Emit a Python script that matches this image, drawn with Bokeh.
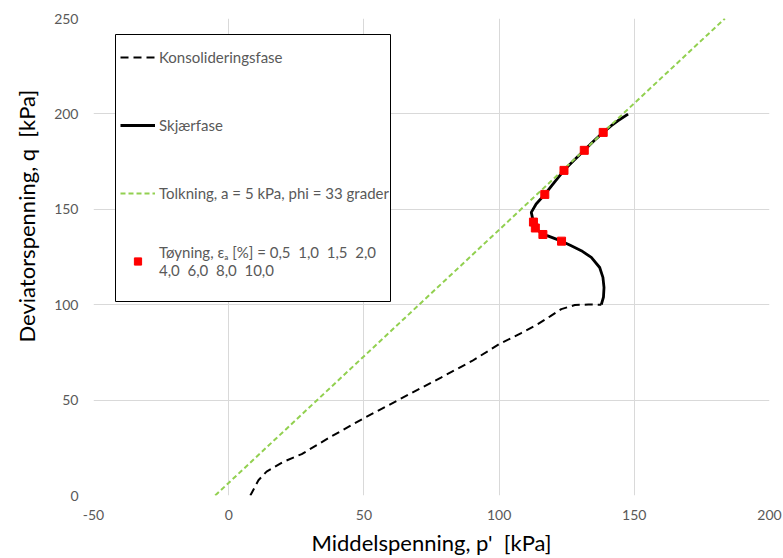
from bokeh.plotting import figure
from bokeh.models import Legend, LegendItem, FixedTicker, Range1d, Title, BoxAnnotation, PrintfTickFormatter
from bokeh.embed import file_html
from bokeh.resources import INLINE

# Konsolideringsfase (dashed black)
kons_p = [8.0, 9.5, 11.0, 14.0, 20.0, 27.0, 38.0, 50.0, 64.0, 78.5, 90.0, 100.0, 108.0, 114.3, 119.0, 123.0, 128.0, 133.0, 137.8]
kons_q = [0.0, 4.0, 8.0, 12.5, 17.5, 21.7, 31.0, 40.5, 51.0, 61.8, 70.5, 79.3, 85.0, 89.8, 94.0, 97.7, 99.8, 100.1, 100.0]

# Skjaerfase (solid black)
skj_p = [137.8, 138.6, 138.8, 138.4, 137.2, 134.1, 130.4, 126.5, 123.1, 118.0, 116.2, 113.4, 112.7, 111.9, 113.7, 116.9, 120.5, 124.0, 127.8, 131.5, 135.0, 138.5, 141.5, 143.9, 147.7]
skj_q = [100.0, 104.0, 109.0, 114.3, 119.5, 124.8, 128.3, 131.0, 133.3, 136.1, 136.8, 140.2, 143.3, 148.4, 152.8, 157.8, 164.3, 170.4, 175.8, 180.9, 185.8, 190.3, 193.8, 196.4, 199.9]

# Tolkning (dashed green), a = 5 kPa, phi = 33 grader
tolk_p = [-5.0, 183.5]
tolk_q = [0.0, 250.0]

# Toyning markers (eps_a = 0.5, 1, 1.5, 2, 4, 6, 8, 10 %)
toy_p = [123.1, 116.2, 113.4, 112.7, 116.9, 124.0, 131.5, 138.5]
toy_q = [133.3, 136.8, 140.2, 143.3, 157.8, 170.4, 180.9, 190.3]

x_ticks = [-50, 0, 50, 100, 150, 200]
y_ticks = [0, 50, 100, 150, 200, 250]

FONT = "Lato"
GRAY = "#595959"
NB = "\u00a0"

p = figure(frame_width=676, frame_height=477, output_backend="svg", toolbar_location=None,
           x_range=Range1d(-50, 200), y_range=Range1d(0, 250),
           min_border_left=90, min_border_right=15, min_border_top=18, min_border_bottom=60)
p.outline_line_color = None
p.background_fill_color = "white"

for ax in (p.xaxis[0], p.yaxis[0]):
    ax.axis_line_color = None
    ax.major_tick_line_color = None
    ax.minor_tick_line_color = None
    ax.major_tick_out = 0
    ax.major_tick_in = 0
    ax.minor_tick_out = 0
    ax.minor_tick_in = 0
    ax.major_label_text_font = FONT
    ax.major_label_text_font_size = "14px"
    ax.major_label_text_color = GRAY
    ax.axis_label_text_font = FONT
    ax.axis_label_text_font_size = "22px"
    ax.axis_label_text_font_style = "normal"
    ax.axis_label_text_color = "#000000"
    ax.formatter = PrintfTickFormatter(format="%d")

p.xaxis.ticker = FixedTicker(ticks=x_ticks)
p.yaxis.ticker = FixedTicker(ticks=y_ticks)
p.xaxis.axis_label = "Middelspenning, p'" + NB + " [kPa]"
p.xaxis.major_label_standoff = 14
p.xaxis.axis_label_standoff = 6
p.yaxis.major_label_standoff = 15

ytitle = Title(text="Deviatorspenning, q" + NB + " [kPa]", align="left", offset=153,
               vertical_align="middle", standoff=22,
               text_font=FONT, text_font_size="22px", text_font_style="normal",
               text_color="#000000")
p.add_layout(ytitle, "left")

p.grid.grid_line_color = "#d9d9d9"
p.grid.grid_line_width = 1

r_kons = p.line(kons_p, kons_q, line_color="black", line_width=2, line_dash="8 5")
r_skj = p.line(skj_p, skj_q, line_color="black", line_width=2.8)
r_tolk = p.line(tolk_p, tolk_q, line_color="#92D050", line_width=2, line_dash="5 3")
r_toy = p.scatter(toy_p, toy_q, marker="square", size=8, fill_color="#ff0000", line_color="#ff0000")

# legend frame (screen units, relative to plot frame)
box = BoxAnnotation(left=22, right=297, bottom=194, top=461,
                    left_units="screen", right_units="screen", bottom_units="screen", top_units="screen",
                    fill_color="white", fill_alpha=1, line_color="black", line_width=1, line_alpha=1)
p.add_layout(box)

legend = Legend(items=[
    LegendItem(label="Konsolideringsfase", renderers=[r_kons]),
    LegendItem(label="Skjærfase", renderers=[r_skj]),
    LegendItem(label="Tolkning, a = 5 kPa, phi = 33 grader", renderers=[r_tolk]),
    LegendItem(label="Tøyning, εₐ [%] = 0,5" + NB + " 1,0" + NB + " 1,5" + NB + " 2,0\n4,0" + NB + " 6,0" + NB + " 8,0" + NB + " 10,0",
               renderers=[r_toy]),
], location=(27, 216))
legend.border_line_color = None
legend.background_fill_alpha = 0
legend.label_text_font = FONT
legend.label_text_font_size = "15px"
legend.label_text_color = GRAY
legend.glyph_width = 35
legend.glyph_height = 18
legend.label_height = 36
legend.label_standoff = 4
legend.spacing = 32
legend.padding = 0
legend.margin = 0
p.add_layout(legend, "center")

open("out.html", "w").write(file_html(p, INLINE))
